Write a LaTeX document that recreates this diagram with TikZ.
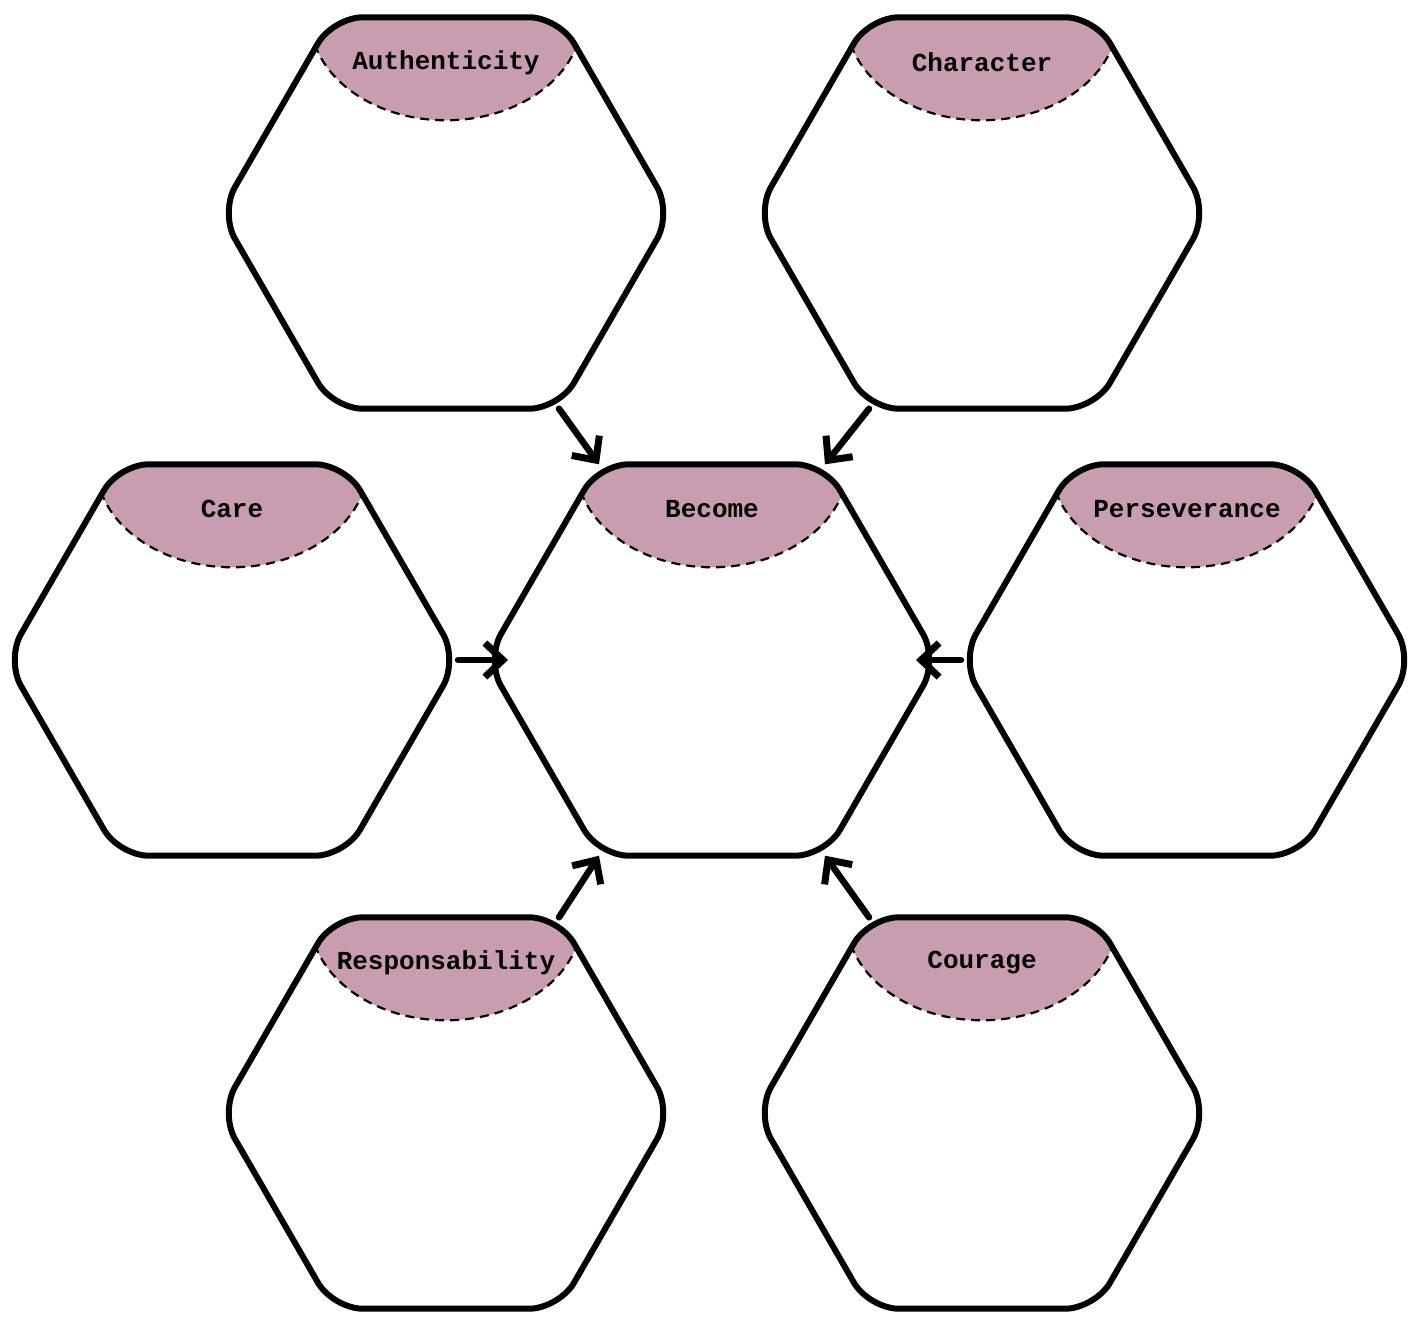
\documentclass[tikz,border=0pt]{standalone}
\usepackage{fontspec}
\setmonofont{Liberation Mono}
\usepackage{tikz}
\usetikzlibrary{arrows.meta,shapes.geometric}
\definecolor{capfill}{RGB}{200,157,176}

\begin{document}
\begin{tikzpicture}[x=1pt,y=-1pt,
    hexa/.style={regular polygon,regular polygon sides=6,minimum size=452pt,
      inner sep=0pt,outer sep=0pt,draw=black,line width=6pt,
      rounded corners=30pt,fill=white,
      path picture={%
        \fill[capfill] (path picture bounding box.north)
          ellipse [x radius=136pt,y radius=103pt];
        \draw[line width=2.2pt,dash pattern=on 9pt off 6pt]
          (path picture bounding box.north)
          ellipse [x radius=136pt,y radius=103pt];}},
    captext/.style={font=\fontsize{26}{30}\selectfont\ttfamily\bfseries},
    link/.style={line width=6.5pt,line cap=round,
      -{Straight Barb[length=18pt,width=34pt,line width=7pt]}}]
  \useasboundingbox (0,0) rectangle (1421,1318);

  \node[hexa] (auth) at (446,213) {};
  \node[hexa] (char) at (982,213) {};
  \node[hexa] (care) at (232,660) {};
  \node[hexa] (become) at (712,660) {};
  \node[hexa] (persev) at (1187,660) {};
  \node[hexa] (resp) at (446,1113) {};
  \node[hexa] (cour) at (982,1113) {};

  \node[captext] (authlbl) at ([yshift=-45pt]auth.north) {Authenticity};
  \node[captext] (charlbl) at ([yshift=-45pt]char.north) {Character};
  \node[captext] (carelbl) at ([yshift=-45pt]care.north) {Care};
  \node[captext] (becomelbl) at ([yshift=-45pt]become.north) {Become};
  \node[captext] (persevlbl) at ([yshift=-45pt]persev.north) {Perseverance};
  \node[captext] (resplbl) at ([yshift=-45pt]resp.north) {Responsability};
  \node[captext] (courlbl) at ([yshift=-45pt]cour.north) {Courage};

  \draw[link] (auth.-60) -- (become.120);
  \draw[link] (char.240) -- (become.60);
  \draw[link] (care.0) -- ([xshift=22pt]become.180);
  \draw[link] (persev.180) -- ([xshift=-22pt]become.0);
  \draw[link] (resp.60) -- (become.240);
  \draw[link] (cour.120) -- (become.300);
\end{tikzpicture}
\end{document}
